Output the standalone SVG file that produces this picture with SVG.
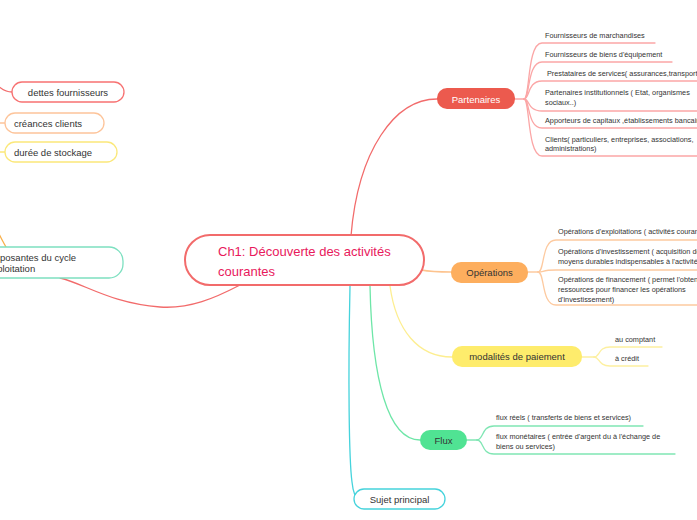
<svg xmlns="http://www.w3.org/2000/svg" width="697" height="520" viewBox="0 0 697 520">
<style>
text{font-family:"Liberation Sans",Arial,sans-serif;fill:#333}
.s{font-size:7.3px}
.n{font-size:9.5px}
.c{fill:none;stroke-width:1.3;stroke-linecap:round}
.red{stroke:#f26b6b}.pr{stroke:#fba6a6}
.or{stroke:#fdc38e}.po{stroke:#fdcaa0}
.ye{stroke:#fdee90}.py{stroke:#fdf0a0}
.gr{stroke:#6ee6a8}.pg{stroke:#80e6b4}
.cy{stroke:#45d3dc}
</style>
<rect width="697" height="520" fill="#ffffff"/>
<g id="connectors">
<path class="c red" d="M351,236 C358,150 395,99 437,99"/>
<path class="c or" d="M421,270 C432,272 440,272 451,272"/>
<path class="c ye" d="M390,286 C396,330 418,357 452,357"/>
<path class="c gr" d="M370,286 C372,380 388,440 420,440"/>
<path class="c cy" d="M350,286 C348,380 349,460 352,482 C353,492 356,499 358,499"/>
<path class="c red" d="M240,285 C215,298 190,309 160,307 C110,303 85,284 60,278"/>
<path class="c" stroke="#f8b04a" d="M-4,228 C0,236 3,242 6,247"/>
<path class="c red" d="M-4,84 C2,90 6,92 12,92"/>
<path class="c" stroke="#fdc49a" d="M0,123 L5,123"/>
<path class="c" stroke="#fbe87a" d="M0,152 L5,152"/>
<path class="c pr" d="M515,99 L524,99"/>
<path class="c pr" d="M524,99 C530,99 527,43 542,43 L655,43"/>
<path class="c pr" d="M524,99 C530,99 527,62 542,62 L672,62"/>
<path class="c pr" d="M524,99 C530,99 527,81 542,81 L700,81"/>
<path class="c pr" d="M524,99 C530,99 527,111 542,111 L700,111"/>
<path class="c pr" d="M524,99 C530,99 527,128 542,128 L700,128"/>
<path class="c pr" d="M524,99 C530,99 527,156 542,156 L700,156"/>
<path class="c po" d="M528,272 L538,272"/>
<path class="c po" d="M538,272 C545,272 541,240 556,240 L700,240"/>
<path class="c po" d="M538,272 C545,272 541,270 556,270 L700,270"/>
<path class="c po" d="M538,272 C545,272 541,305 556,305 L700,305"/>
<path class="c py" d="M582,357 L594,357"/>
<path class="c py" d="M594,357 C600,357 598,347 610,347 L662,347"/>
<path class="c py" d="M594,357 C600,357 598,366 610,366 L648,366"/>
<path class="c pg" d="M467,440 L477,440"/>
<path class="c pg" d="M477,440 C484,440 481,426 494,426 L643,426"/>
<path class="c pg" d="M477,440 C484,440 481,454 494,454 L675,454"/>
</g>
<g id="central">
<rect x="185" y="235" width="239" height="50" rx="25" fill="#fff" stroke="#f26b6b" stroke-width="2"/>
<text x="218" y="256" font-size="13" style="fill:#e8195c">Ch1: Découverte des activités</text>
<text x="218" y="276" font-size="13" style="fill:#e8195c">courantes</text>
</g>
<g id="partenaires">
<rect x="437" y="88" width="78" height="21" rx="10" fill="#ec5a4e"/>
<text class="n" x="476" y="102.5" text-anchor="middle" style="fill:#fff">Partenaires</text>
</g>
<g id="p1"><text class="s" x="545" y="38">Fournisseurs de marchandises</text></g>
<g id="p2"><text class="s" x="545" y="57">Fournisseurs de biens d'équipement</text></g>
<g id="p3"><text class="s" x="547" y="76">Prestataires de services( assurances,transports...)</text></g>
<g id="p4"><text class="s" x="545" y="95">Partenaires institutionnels ( Etat, organismes</text><text class="s" x="545" y="105">sociaux..)</text></g>
<g id="p5"><text class="s" x="545" y="123">Apporteurs de capitaux ,établissements bancaires</text></g>
<g id="p6"><text class="s" x="545" y="142">Clients( particuliers, entreprises, associations,</text><text class="s" x="545" y="151">administrations)</text></g>
<g id="operations">
<rect x="451" y="262" width="77" height="21" rx="10" fill="#fdae5e"/>
<text class="n" x="489.5" y="275.5" text-anchor="middle">Opérations</text>
</g>
<g id="o1"><text class="s" x="558" y="234">Opérations d'exploitations ( activités courantes)</text></g>
<g id="o2"><text class="s" x="558" y="254">Opérations d'investissement ( acquisition des</text><text class="s" x="558" y="264">moyens durables indispensables à l'activité)</text></g>
<g id="o3"><text class="s" x="558" y="282">Opérations de financement ( permet l'obtention des</text><text class="s" x="558" y="292">ressources pour financer les opérations</text><text class="s" x="558" y="302">d'investissement)</text></g>
<g id="modalites">
<rect x="452" y="346" width="130" height="21" rx="10" fill="#feec6c"/>
<text class="n" x="517" y="360" text-anchor="middle">modalités de paiement</text>
</g>
<g id="m1"><text class="s" x="615" y="342">au comptant</text></g>
<g id="m2"><text class="s" x="615" y="361">à crédit</text></g>
<g id="flux">
<rect x="420" y="430" width="47" height="20" rx="10" fill="#50e393"/>
<text class="n" x="443.5" y="443.5" text-anchor="middle">Flux</text>
</g>
<g id="f1"><text class="s" x="496" y="420">flux réels ( transferts de biens et services)</text></g>
<g id="f2"><text class="s" x="496" y="439">flux monétaires ( entrée d'argent du à l'échange de</text><text class="s" x="496" y="449">biens ou services)</text></g>
<g id="sujet">
<rect x="354" y="489" width="91" height="20" rx="10" fill="#fff" stroke="#45d3dc" stroke-width="1.3"/>
<text class="n" x="399.5" y="502.5" text-anchor="middle">Sujet principal</text>
</g>
<g id="composantes">
<rect x="-40" y="247" width="163" height="31" rx="14" fill="#fff" stroke="#7de0c0" stroke-width="1.3"/>
<text class="n" x="-20" y="261">Composantes du cycle</text>
<text class="n" x="-20" y="272">d'exploitation</text>
</g>
<g id="dettes">
<rect x="12" y="82" width="112" height="20" rx="10" fill="#fff" stroke="#f77272" stroke-width="1.3"/>
<text class="n" x="68" y="95.5" text-anchor="middle">dettes fournisseurs</text>
</g>
<g id="creances">
<rect x="5" y="113" width="99" height="20" rx="10" fill="#fff" stroke="#fdc49a" stroke-width="1.3"/>
<text class="n" x="48" y="126.5" text-anchor="middle">créances clients</text>
</g>
<g id="duree">
<rect x="5" y="142" width="112" height="20" rx="10" fill="#fff" stroke="#fbe87a" stroke-width="1.3"/>
<text class="n" x="53" y="155.5" text-anchor="middle">durée de stockage</text>
</g>
</svg>
